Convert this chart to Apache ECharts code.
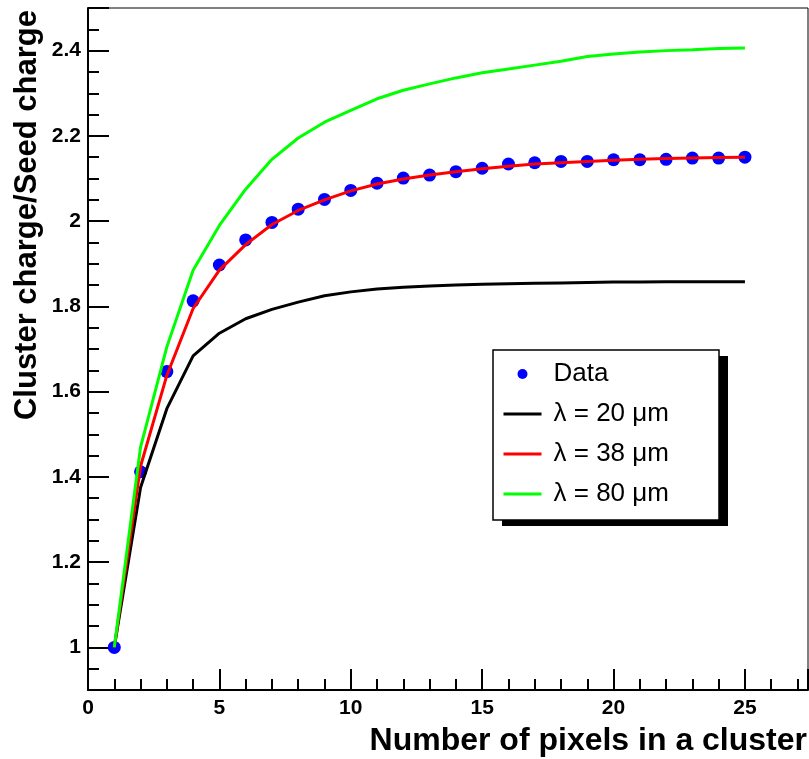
<!DOCTYPE html>
<html>
<head>
<meta charset="utf-8">
<script src="https://cdn.jsdelivr.net/npm/echarts@6/dist/echarts.min.js"></script>
<style>
  html, body { margin: 0; padding: 0; background: #fff; }
</style>
</head>
<body>
<div id="container" style="width: 809px; height: 759px;"></div>
<script>
// number of pixels in a cluster
var pixels = [1, 2, 3, 4, 5, 6, 7, 8, 9, 10, 11, 12, 13, 14, 15, 16, 17, 18, 19, 20, 21, 22, 23, 24, 25];
// measured cluster charge / seed charge
var dataRatio = [1.000, 1.412, 1.647, 1.813, 1.897, 1.956, 1.997, 2.028, 2.051, 2.072, 2.089, 2.101, 2.108,
  2.116, 2.124, 2.134, 2.137, 2.140, 2.140, 2.144, 2.144, 2.145, 2.148, 2.148, 2.150];
// simulation, lambda = 20 um
var lambda20 = [1.000, 1.375, 1.560, 1.684, 1.737, 1.771, 1.793, 1.810, 1.825, 1.834, 1.841, 1.845, 1.848,
  1.850, 1.852, 1.853, 1.854, 1.855, 1.856, 1.857, 1.857, 1.858, 1.858, 1.858, 1.858];
// simulation, lambda = 38 um
var lambda38 = [1.000, 1.425, 1.638, 1.795, 1.885, 1.945, 1.992, 2.025, 2.050, 2.071, 2.087, 2.099, 2.108,
  2.116, 2.123, 2.129, 2.134, 2.137, 2.140, 2.143, 2.145, 2.147, 2.148, 2.149, 2.150];
// simulation, lambda = 80 um
var lambda80 = [1.000, 1.470, 1.705, 1.885, 1.990, 2.075, 2.145, 2.195, 2.232, 2.260, 2.287, 2.307, 2.322,
  2.336, 2.348, 2.357, 2.366, 2.375, 2.386, 2.392, 2.397, 2.400, 2.402, 2.405, 2.406];

var legendNames = ['Data', 'λ = 20 μm', 'λ = 38 μm', 'λ = 80 μm'];

function pairs(ys) {
  return pixels.map(function (x, i) { return [x, ys[i]]; });
}

var font = "'Liberation Sans', Arial, Helvetica, sans-serif";

var chart = echarts.init(document.getElementById('container'), null, {renderer: 'canvas'});

var axisCommon = {
  axisLine: {show: true, onZero: false, lineStyle: {color: '#000', width: 2}},
  axisTick: {show: true, inside: true, length: 21, lineStyle: {color: '#000', width: 2}},
  minorTick: {show: true, length: 11, lineStyle: {color: '#000', width: 2}},
  splitLine: {show: false},
  axisLabel: {
    color: '#000', fontFamily: font, fontWeight: 'bold', fontSize: 21,
    showMinLabel: false, showMaxLabel: false
  }
};

var option = {
  animation: false,
  backgroundColor: '#fff',
  grid: {
    left: 88, right: 1, top: 8, bottom: 69,
    show: true, borderColor: '#000', borderWidth: 1, backgroundColor: 'transparent'
  },
  xAxis: Object.assign({}, axisCommon, {
    type: 'value', min: 0, max: 27.4, interval: 5,
    minorTick: Object.assign({}, axisCommon.minorTick, {splitNumber: 5}),
    axisLabel: Object.assign({}, axisCommon.axisLabel, {margin: 8, showMinLabel: true})
  }),
  // no interval here: min 0.9 is not a multiple of 0.2, so let the nice step (0.2) place ticks
  yAxis: Object.assign({}, axisCommon, {
    type: 'value', min: 0.9, max: 2.5, splitNumber: 8,
    minorTick: Object.assign({}, axisCommon.minorTick, {splitNumber: 4}),
    axisLabel: Object.assign({}, axisCommon.axisLabel, {margin: 7})
  }),
  legend: {
    orient: 'vertical',
    left: 502, top: 359,
    padding: 0,
    itemWidth: 38, itemHeight: 10,
    itemGap: 10,
    lineStyle: {width: 3},
    data: [
      {name: legendNames[0]},
      {name: legendNames[1], itemStyle: {opacity: 0}},
      {name: legendNames[2], itemStyle: {opacity: 0}},
      {name: legendNames[3], itemStyle: {opacity: 0}}
    ],
    textStyle: {color: '#000', fontFamily: font, fontSize: 26, lineHeight: 30, padding: [0, 0, 0, 7]}
  },
  graphic: [
    // legend frame with shadow
    {type: 'rect', z: 3, shape: {x: 502, y: 356, width: 226, height: 170}, style: {fill: '#000'}},
    {type: 'rect', z: 3, shape: {x: 493, y: 350, width: 226, height: 170}, style: {fill: '#fff', stroke: '#000', lineWidth: 1.5}},
    {
      type: 'text', z: 5, x: 27, y: 10, rotation: Math.PI / 2,
      style: {text: 'Cluster charge/Seed charge', fill: '#000', font: 'bold 31px ' + font, align: 'right', verticalAlign: 'middle'}
    },
    {
      type: 'text', z: 5, x: 807, y: 741,
      style: {text: 'Number of pixels in a cluster', fill: '#000', font: 'bold 32px ' + font, align: 'right', verticalAlign: 'middle'}
    }
  ],
  series: [
    {
      name: 'Data', type: 'scatter', data: pairs(dataRatio),
      symbol: 'circle', symbolSize: 13,
      itemStyle: {color: '#0000ff', opacity: 1}
    },
    {
      name: 'λ = 20 μm', type: 'line', data: pairs(lambda20),
      symbol: 'none', lineStyle: {color: '#000', width: 3}, itemStyle: {color: '#000'}
    },
    {
      name: 'λ = 38 μm', type: 'line', data: pairs(lambda38),
      symbol: 'none', lineStyle: {color: '#ff0000', width: 3}, itemStyle: {color: '#ff0000'}
    },
    {
      name: 'λ = 80 μm', type: 'line', data: pairs(lambda80),
      symbol: 'none', lineStyle: {color: '#00ff00', width: 3}, itemStyle: {color: '#00ff00'}
    }
  ]
};

chart.setOption(option);
</script>
</body>
</html>
